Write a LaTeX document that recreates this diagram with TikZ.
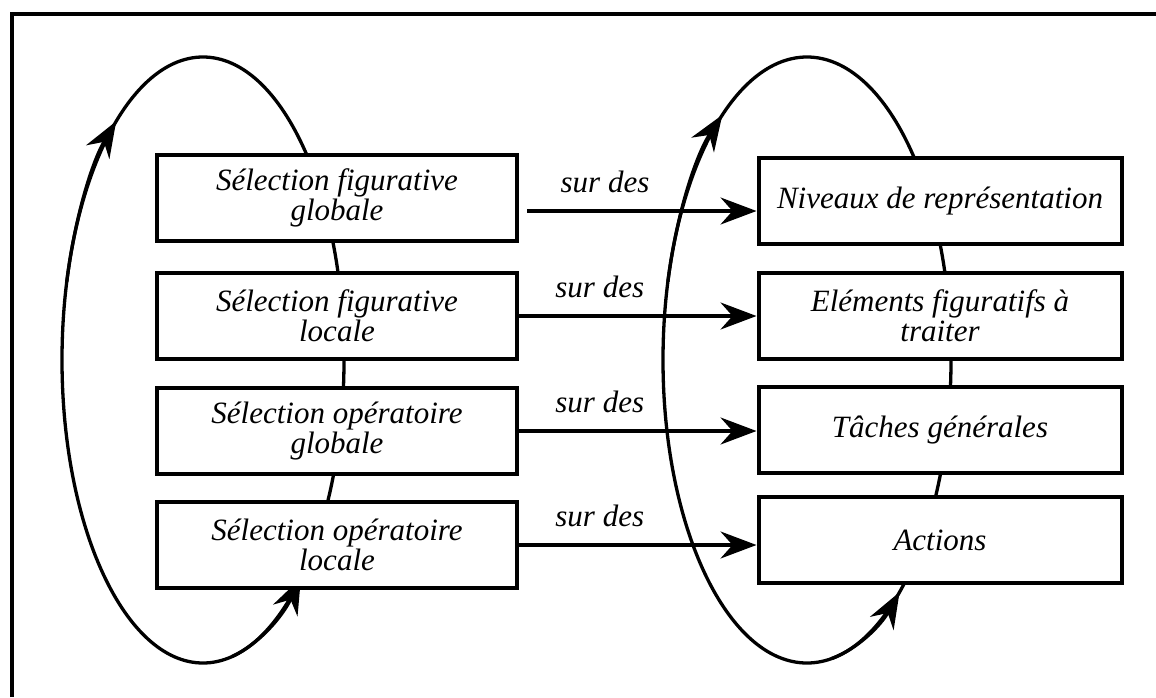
\documentclass[tikz,border=0pt]{standalone}
\usepackage{fontspec}
\setmainfont{Liberation Serif}
\usetikzlibrary{arrows.meta,calc}

\begin{document}
\begin{tikzpicture}[x=1pt,y=-1pt,
			>={Stealth[length=36pt,width=27pt,inset=12pt]}]
			\tikzstyle{every node}=[font=\fontsize{31}{30}\selectfont\itshape]
			\tikzstyle{sel}=[draw, line width=4pt, fill=white, align=center,
				minimum width=360pt, minimum height=86pt, inner sep=0pt]
			\tikzstyle{obj}=[sel, minimum width=363pt]
			\tikzstyle{loop}=[line width=3.3pt]

			\useasboundingbox (0,0) rectangle (1156,697);
			\draw[line width=4.5pt] (12,697) |- (1156,14);

			% the two cycles
			\coordinate (cl) at (203,360);
			\coordinate (cr) at (807,360);
			\draw[loop] (cl) ellipse [x radius=141, y radius=303];
			\draw[loop] (cr) ellipse [x radius=144, y radius=303];
			\draw[loop,->] ($(cl)+(195:141 and 303)$) arc[start angle=195, end angle=232, x radius=141, y radius=303];
			\draw[loop,->] ($(cl)+(78:141 and 303)$) arc[start angle=78, end angle=46, x radius=141, y radius=303];
			\draw[loop,->] ($(cr)+(195:144 and 303)$) arc[start angle=195, end angle=234, x radius=144, y radius=303];
			\draw[loop,->] ($(cr)+(80:144 and 303)$) arc[start angle=80, end angle=50, x radius=144, y radius=303];

			\node[sel] (g1) at (337,198) {Sélection figurative\\globale};
			\node[sel] (g2) at (337,316) {Sélection figurative\\locale};
			\node[sel] (g3) at (337,431) {Sélection opératoire\\globale};
			\node[sel] (g4) at (337,545) {Sélection opératoire\\locale};

			\node[obj] (n1) at (940,201) {Niveaux de représentation};
			\node[obj] (n2) at (940,316) {Eléments figuratifs à\\traiter};
			\node[obj] (n3) at (940,430) {Tâches générales};
			\node[obj] (n4) at (940,540) {Actions};

			\coordinate (a1) at ([shift={(8,13)}]g1.east);
			\begin{scope}[line width=3.3pt, every node/.append style={above=13pt, pos=.34}]
				\draw[->] (a1) -- node (s1) {sur des} (a1 -| n1.west);
				\draw[->] (g2.east) -- node (s2) {sur des} (g2.east -| n2.west);
				\draw[->] (g3.east) -- node (s3) {sur des} (g3.east -| n3.west);
				\draw[->] (g4.east) -- node (s4) {sur des} (g4.east -| n4.west);
			\end{scope}

		\end{tikzpicture}
\end{document}
